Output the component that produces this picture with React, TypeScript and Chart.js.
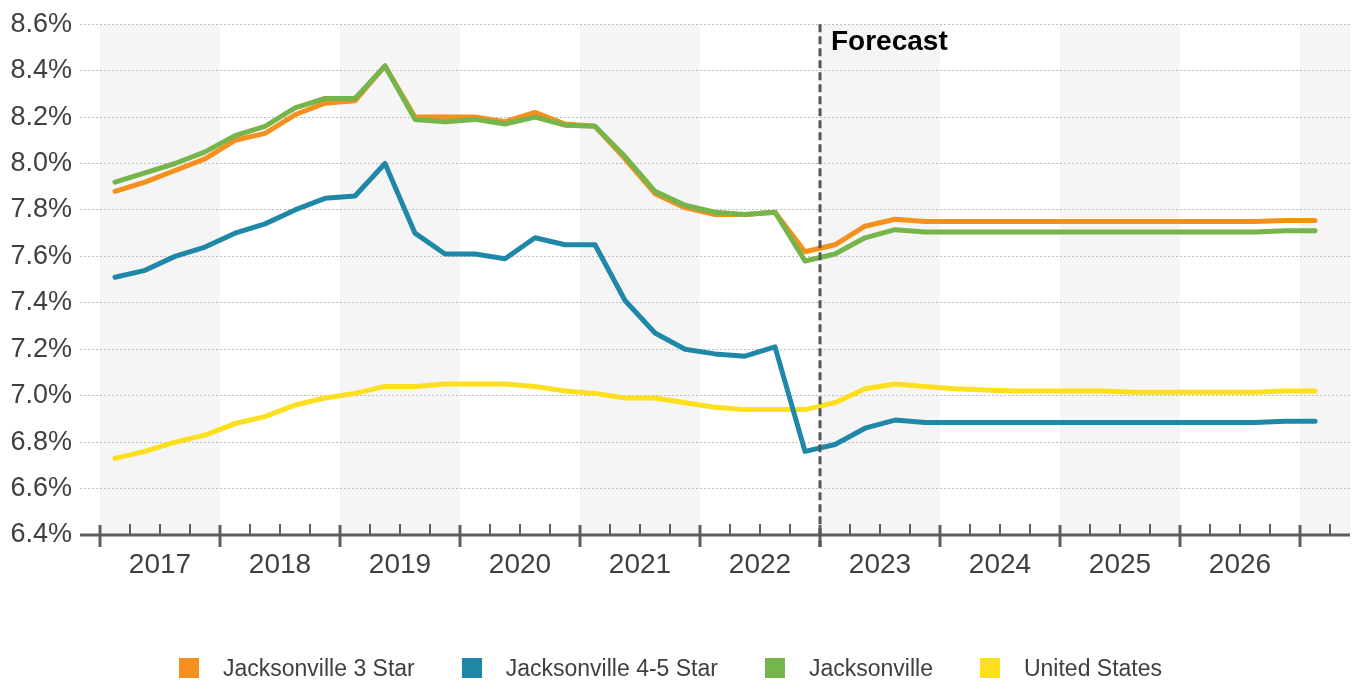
import React, { useEffect, useRef } from 'react';
import { Chart, registerables } from 'chart.js';

Chart.register(...registerables);

// Quarterly observations, history through 2022 Q4 and forecast afterwards
const QUARTERS = [
  '2017 Q1', '2017 Q2', '2017 Q3', '2017 Q4',
  '2018 Q1', '2018 Q2', '2018 Q3', '2018 Q4',
  '2019 Q1', '2019 Q2', '2019 Q3', '2019 Q4',
  '2020 Q1', '2020 Q2', '2020 Q3', '2020 Q4',
  '2021 Q1', '2021 Q2', '2021 Q3', '2021 Q4',
  '2022 Q1', '2022 Q2', '2022 Q3', '2022 Q4',
  '2023 Q1', '2023 Q2', '2023 Q3', '2023 Q4',
  '2024 Q1', '2024 Q2', '2024 Q3', '2024 Q4',
  '2025 Q1', '2025 Q2', '2025 Q3', '2025 Q4',
  '2026 Q1', '2026 Q2', '2026 Q3', '2026 Q4',
  '2027 Q1',
];

const JAX_3_STAR = [
  7.88, 7.92, 7.97, 8.02, 8.10, 8.13, 8.21, 8.26, 8.27, 8.42,
  8.20, 8.20, 8.20, 8.18, 8.22, 8.17, 8.16, 8.02, 7.87, 7.81,
  7.78, 7.78, 7.79, 7.62, 7.65, 7.73, 7.76, 7.75, 7.75, 7.75,
  7.75, 7.75, 7.75, 7.75, 7.75, 7.75, 7.75, 7.75, 7.75, 7.755,
  7.755,
];

const JAX_45_STAR = [
  7.51, 7.54, 7.60, 7.64, 7.70, 7.74, 7.80, 7.85, 7.86, 8.00,
  7.70, 7.61, 7.61, 7.59, 7.68, 7.65, 7.65, 7.41, 7.27, 7.20,
  7.18, 7.17, 7.21, 6.76, 6.79, 6.86, 6.895, 6.885, 6.885, 6.885,
  6.885, 6.885, 6.885, 6.885, 6.885, 6.885, 6.885, 6.885, 6.885, 6.89,
  6.89,
];

const JAX_ALL = [
  7.92, 7.96, 8.00, 8.05, 8.12, 8.16, 8.24, 8.28, 8.28, 8.42,
  8.19, 8.18, 8.19, 8.17, 8.20, 8.165, 8.16, 8.03, 7.88, 7.82,
  7.79, 7.78, 7.79, 7.58, 7.61, 7.68, 7.715, 7.705, 7.705, 7.705,
  7.705, 7.705, 7.705, 7.705, 7.705, 7.705, 7.705, 7.705, 7.705, 7.71,
  7.71,
];

const US_ALL = [
  6.73, 6.76, 6.80, 6.83, 6.88, 6.91, 6.96, 6.99, 7.01, 7.04,
  7.04, 7.05, 7.05, 7.05, 7.04, 7.02, 7.01, 6.99, 6.99, 6.97,
  6.95, 6.94, 6.94, 6.94, 6.97, 7.03, 7.05, 7.04, 7.03, 7.025,
  7.02, 7.02, 7.02, 7.02, 7.015, 7.015, 7.015, 7.015, 7.015, 7.02,
  7.02,
];

const YEAR_LABELS = ['2017', '2018', '2019', '2020', '2021', '2022', '2023', '2024', '2025', '2026'];
const Y_TICKS = [6.4, 6.6, 6.8, 7.0, 7.2, 7.4, 7.6, 7.8, 8.0, 8.2, 8.4, 8.6];
const FORECAST_FROM = 2023;
const FORECAST_LABEL = 'Forecast';

const SERIES = [
  { label: 'Jacksonville 3 Star', data: JAX_3_STAR, color: '#F5901E', order: 1 },
  { label: 'Jacksonville 4-5 Star', data: JAX_45_STAR, color: '#1F87A8', order: 2 },
  { label: 'Jacksonville', data: JAX_ALL, color: '#76B44C', order: 0 },
  { label: 'United States', data: US_ALL, color: '#FDDF1D', order: 3 },
];

const FONT = '"Liberation Sans", Arial, Helvetica, sans-serif';
const TEXT = '#404040';

// Position of a quarter on a continuous year axis (centre of the quarter)
const quarterPos = (q: string) => {
  const [yr, qq] = q.split(' Q');
  return Number(yr) + (Number(qq) - 0.5) / 4;
};

// Alternating grey bands behind every other year
const yearBands = {
  id: 'yearBands',
  beforeDraw(chart: any) {
    const { ctx, chartArea, scales } = chart;
    const x = scales.x;
    const first = Math.ceil(x.min);
    ctx.save();
    ctx.fillStyle = '#F5F5F5';
    for (let yr = first; yr <= Math.floor(x.max); yr++) {
      if ((yr - first) % 2 !== 0) continue;
      const l = x.getPixelForValue(yr);
      const r = Math.min(x.getPixelForValue(yr + 1), chartArea.right);
      ctx.fillRect(l, chartArea.top, r - l, chartArea.bottom - chartArea.top);
    }
    ctx.restore();
  },
};

// Bottom axis line with year and quarter tick marks, plus the forecast divider
const axisAndForecast = {
  id: 'axisAndForecast',
  afterDatasetsDraw(chart: any) {
    const { ctx, chartArea, scales } = chart;
    const x = scales.x;
    const bottom = chartArea.bottom;
    ctx.save();
    ctx.strokeStyle = '#5E5E5E';
    ctx.lineWidth = 3;
    ctx.beginPath();
    ctx.moveTo(chartArea.left, bottom);
    ctx.lineTo(chartArea.right, bottom);
    ctx.stroke();

    const startQ = Math.ceil(x.min * 4);
    const endQ = Math.floor(x.max * 4);
    for (let q = startQ; q <= endQ; q++) {
      const px = Math.round(x.getPixelForValue(q / 4));
      ctx.beginPath();
      if (q % 4 === 0) {
        ctx.lineWidth = 3;
        ctx.moveTo(px, bottom - 10);
        ctx.lineTo(px, bottom + 12);
      } else {
        ctx.lineWidth = 2;
        ctx.moveTo(px, bottom - 11);
        ctx.lineTo(px, bottom);
      }
      ctx.stroke();
    }

    const fx = Math.round(x.getPixelForValue(FORECAST_FROM));
    ctx.strokeStyle = '#555555';
    ctx.lineWidth = 3;
    ctx.setLineDash([8, 4]);
    ctx.beginPath();
    ctx.moveTo(fx, chartArea.top);
    ctx.lineTo(fx, bottom + 12);
    ctx.stroke();
    ctx.setLineDash([]);

    ctx.fillStyle = '#000000';
    ctx.font = `bold 28px ${FONT}`;
    ctx.textAlign = 'left';
    ctx.textBaseline = 'alphabetic';
    ctx.fillText(FORECAST_LABEL, fx + 11, chartArea.top + 26);
    ctx.restore();
  },
};

export default function App() {
  const canvasRef = useRef<HTMLCanvasElement | null>(null);

  useEffect(() => {
    document.body.style.margin = '0';
    const canvas = canvasRef.current;
    if (!canvas) return;
    const chart = new Chart(canvas, {
      type: 'line',
      data: {
        datasets: SERIES.map((s) => ({
          label: s.label,
          data: s.data.map((v, i) => ({ x: quarterPos(QUARTERS[i]), y: v })),
          borderColor: s.color,
          backgroundColor: s.color,
          borderWidth: 5,
          pointRadius: 0,
          tension: 0,
          borderCapStyle: 'round',
          borderJoinStyle: 'round',
          order: s.order,
        })),
      },
      options: {
        responsive: false,
        maintainAspectRatio: false,
        animation: false,
        events: [],
        layout: { padding: { top: 22, right: 6, left: 0, bottom: 0 } },
        plugins: {
          legend: { display: false },
          tooltip: { enabled: false },
        },
        scales: {
          x: {
            type: 'linear',
            min: 2017 - 1 / 6,
            max: 2027 + 5 / 12,
            grid: { display: false, drawTicks: false },
            border: { display: false },
            afterBuildTicks: (scale: any) => {
              scale.ticks = YEAR_LABELS.map((l) => ({ value: Number(l) + 0.5 }));
            },
            afterFit: (scale: any) => {
              scale.height = 149;
            },
            ticks: {
              autoSkip: false,
              maxRotation: 0,
              padding: 13,
              color: TEXT,
              font: { family: FONT, size: 28 },
              callback: (_v: any, i: number) => YEAR_LABELS[i],
            },
          },
          y: {
            type: 'linear',
            min: Y_TICKS[0],
            max: Y_TICKS[Y_TICKS.length - 1],
            afterBuildTicks: (scale: any) => {
              scale.ticks = Y_TICKS.map((v) => ({ value: v }));
            },
            afterFit: (scale: any) => {
              scale.width = 80;
            },
            grid: { color: '#BDBDBD', lineWidth: 1, drawTicks: false },
            border: { display: false, dash: [2, 2] },
            ticks: {
              padding: 8,
              color: TEXT,
              font: { family: FONT, size: 27 },
              callback: (v: any) => `${Number(v).toFixed(1)}%`,
            },
          },
        },
      },
      plugins: [yearBands, axisAndForecast],
    } as any);
    return () => chart.destroy();
  }, []);

  return (
    <div style={{ position: 'relative', width: 1356, height: 684, background: '#fff' }}>
      <canvas ref={canvasRef} width={1356} height={684} style={{ display: 'block' }} />
      <div
        style={{
          position: 'absolute',
          top: 658,
          left: 179,
          display: 'flex',
          alignItems: 'center',
          fontFamily: FONT,
          fontSize: 23,
          lineHeight: '20px',
          color: TEXT,
          whiteSpace: 'nowrap',
        }}
      >
        {SERIES.map((s) => (
          <div key={s.label} style={{ display: 'flex', alignItems: 'center', marginRight: 47 }}>
            <span style={{ display: 'inline-block', width: 20, height: 20, background: s.color, marginRight: 24 }} />
            <span>{s.label}</span>
          </div>
        ))}
      </div>
    </div>
  );
}
